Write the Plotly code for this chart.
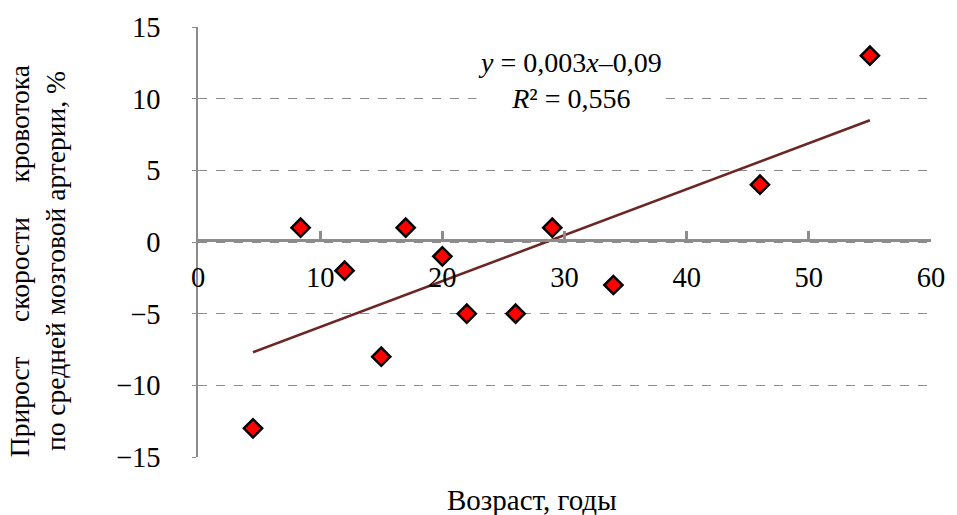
import numpy as np
import plotly.graph_objects as go

age = [4.5, 8.4, 12, 15, 17, 20, 22, 26, 29, 34, 46, 55]
delta = [-13, 1, -2, -8, 1, -1, -5, -5, 1, -3, 4, 13]
x_ticks = [0, 10, 20, 30, 40, 50, 60]
y_ticks = [-15, -10, -5, 0, 5, 10, 15]
y_tick_labels = ["\u221215", "\u221210", "\u22125", "0", "5", "10", "15"]

slope, intercept = np.polyfit(age, delta, 1)
trend_x = [min(age), max(age)]
trend_y = [slope * v + intercept for v in trend_x]

FONT = "Liberation Serif"

fig = go.Figure()
fig.add_trace(go.Scatter(x=trend_x, y=trend_y, mode="lines",
                         line=dict(color="#6b2626", width=2.6), showlegend=False,
                         hoverinfo="skip"))
fig.add_trace(go.Scatter(x=age, y=delta, mode="markers",
                         marker=dict(symbol="diamond", size=14, color="#ff0000",
                                     line=dict(color="#000000", width=2.5)),
                         showlegend=False))

fig.update_layout(
    width=957, height=515,
    margin=dict(l=198, r=19, t=27, b=58),
    paper_bgcolor="white", plot_bgcolor="white",
    font=dict(family=FONT, size=28, color="black"),
    xaxis=dict(range=[0, 60], tickvals=x_ticks, showgrid=False, zeroline=False,
               anchor="free", position=0.504, showline=True, linecolor="#8c8c8c",
               linewidth=3, ticks="inside", ticklen=8, tickwidth=3, tickcolor="#8c8c8c",
               tickfont=dict(family=FONT, size=28.5), ticklabelstandoff=11),
    yaxis=dict(range=[-15, 15], tickvals=y_ticks, ticktext=y_tick_labels,
               showgrid=True, gridcolor="#8c8c8c", griddash="dash", gridwidth=1.3,
               zeroline=False, showline=True, linecolor="#8c8c8c", linewidth=1.5,
               ticks="outside", ticklen=4, tickcolor="#8c8c8c",
               tickfont=dict(family=FONT, size=28.5), ticklabelstandoff=26),
)

fig.add_annotation(x=0.507, y=0.876, xref="paper", yref="paper",
                   xanchor="center", yanchor="middle",
                   text="<i>y</i> = 0,003<i>x</i>\u20130,09<br><i>R</i>\u00b2 = 0,556",
                   showarrow=False, font=dict(family=FONT, size=28), align="center",
                   bgcolor="white")

fig.add_annotation(x=0.455, y=-0.101, xref="paper", yref="paper",
                   xanchor="center", yanchor="middle",
                   text="Возраст, годы", showarrow=False, font=dict(family=FONT, size=29))
sp = "\u00a0" * 5
fig.add_annotation(x=-0.218, y=0.456, xref="paper", yref="paper", textangle=-90,
                   xanchor="center", yanchor="middle",
                   text="Прирост" + sp + "скорости" + sp + "кровотока<br>по средней мозговой артерии, %",
                   showarrow=False, font=dict(family=FONT, size=27.5), align="center")

fig.write_html("out.html")
